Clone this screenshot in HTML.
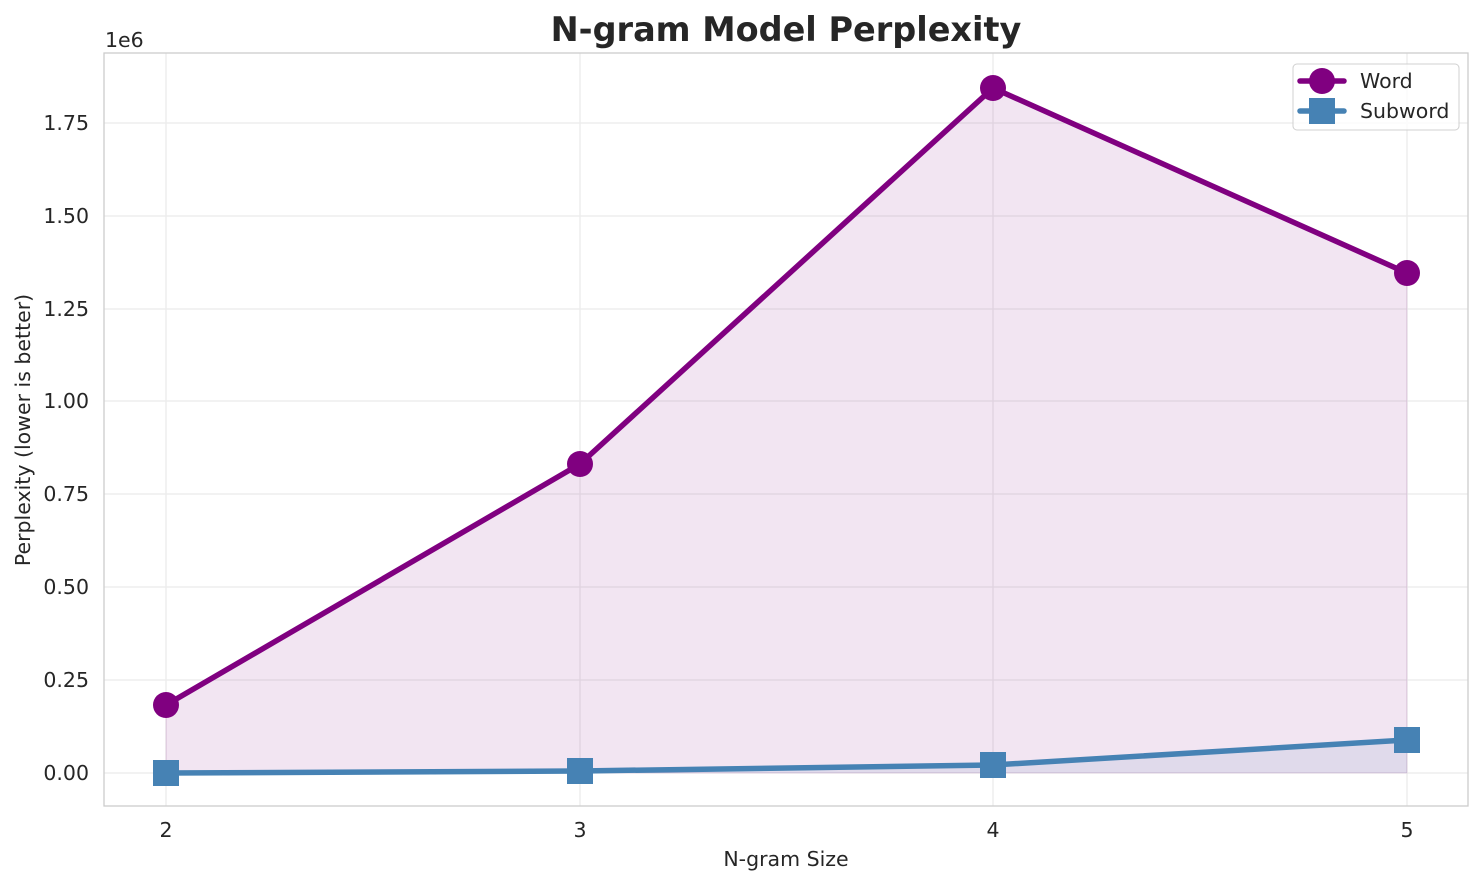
<!DOCTYPE html>
<html><head><meta charset="utf-8"><style>body{margin:0;background:#fff}svg{display:block}text{font-family:"DejaVu Sans","Liberation Sans",sans-serif;fill:#262626}</style></head>
<body>
<svg width="1484" height="885" viewBox="0 0 1484 885" xmlns="http://www.w3.org/2000/svg">
<g stroke="#ebebeb" stroke-width="1.3">
<line x1="166" y1="53" x2="166" y2="806"/><line x1="580" y1="53" x2="580" y2="806"/><line x1="993" y1="53" x2="993" y2="806"/><line x1="1407" y1="53" x2="1407" y2="806"/>
<line x1="104" y1="773" x2="1468" y2="773"/><line x1="104" y1="680" x2="1468" y2="680"/><line x1="104" y1="587" x2="1468" y2="587"/><line x1="104" y1="494" x2="1468" y2="494"/><line x1="104" y1="401" x2="1468" y2="401"/><line x1="104" y1="309" x2="1468" y2="309"/><line x1="104" y1="216" x2="1468" y2="216"/><line x1="104" y1="123" x2="1468" y2="123"/>
</g>
<polygon points="166,705 580,464 993,88 1407,273 1407,773 166,773" fill="#800080" fill-opacity="0.1" stroke="#800080" stroke-opacity="0.1"/>
<polygon points="166,773 580,771 993,765 1407,740 1407,773 166,773" fill="#4682b4" fill-opacity="0.1"/>
<rect x="104" y="53" width="1364" height="753" fill="none" stroke="#cccccc" stroke-width="1.3"/>
<polyline points="166,705 580,464 993,88 1407,273" fill="none" stroke="#800080" stroke-width="5.5" stroke-linejoin="round"/>
<g fill="#800080"><circle cx="166" cy="705" r="13"/><circle cx="580" cy="464" r="13"/><circle cx="993" cy="88" r="13"/><circle cx="1407" cy="273" r="13"/></g>
<polyline points="166,773 580,771 993,765 1407,740" fill="none" stroke="#4682b4" stroke-width="5.5" stroke-linejoin="round"/>
<g fill="#4682b4"><rect x="153" y="760" width="26" height="26"/><rect x="567" y="758" width="26" height="26"/><rect x="980" y="752" width="26" height="26"/><rect x="1394" y="727" width="26" height="26"/></g>
<g font-size="20.5" text-anchor="end">
<text x="89" y="780">0.00</text><text x="89" y="687">0.25</text><text x="89" y="594">0.50</text><text x="89" y="501">0.75</text><text x="89" y="408">1.00</text><text x="89" y="316">1.25</text><text x="89" y="223">1.50</text><text x="89" y="130">1.75</text>
</g>
<text x="105" y="47" font-size="20.5">1e6</text>
<g font-size="20.5" text-anchor="middle">
<text x="166" y="837">2</text><text x="580" y="837">3</text><text x="993" y="837">4</text><text x="1407" y="837">5</text>
<text x="786" y="866">N-gram Size</text>
</g>
<text transform="translate(30,430) rotate(-90)" font-size="20.5" text-anchor="middle">Perplexity (lower is better)</text>
<text x="786" y="41" font-size="33.5" font-weight="bold" text-anchor="middle">N-gram Model Perplexity</text>
<rect x="1293" y="64" width="166" height="66" rx="4" fill="#fff" fill-opacity="0.8" stroke="#d0d0d0"/>
<line x1="1300" y1="81" x2="1344" y2="81" stroke="#800080" stroke-width="5.5" stroke-linecap="round"/>
<circle cx="1322" cy="81" r="13" fill="#800080"/>
<line x1="1300" y1="111" x2="1344" y2="111" stroke="#4682b4" stroke-width="5.5" stroke-linecap="round"/>
<rect x="1309" y="98" width="26" height="26" fill="#4682b4"/>
<text x="1360" y="88" font-size="20.5">Word</text>
<text x="1360" y="118" font-size="20.5">Subword</text>
</svg>
</body></html>
